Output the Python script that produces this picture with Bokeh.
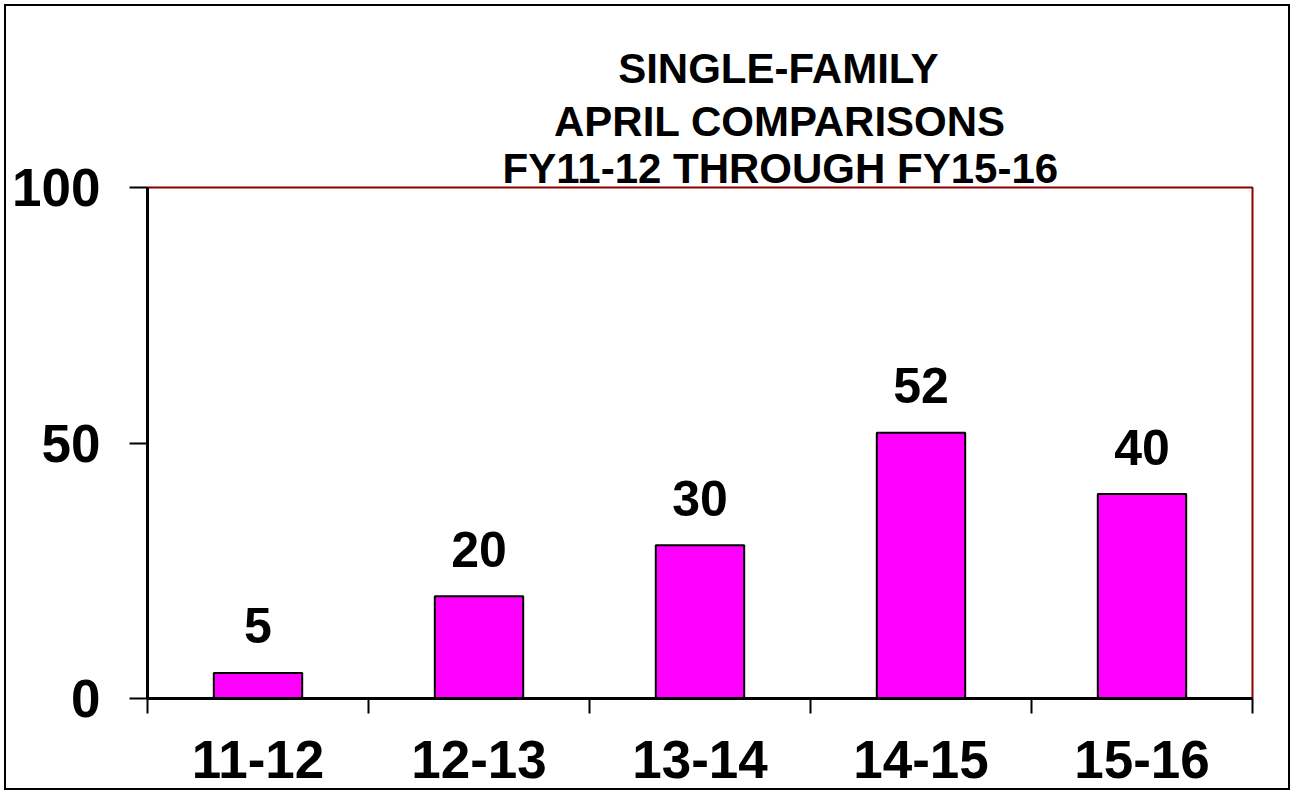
from bokeh.plotting import figure
from bokeh.models import ColumnDataSource, Range1d, FixedTicker, Title
from bokeh.core.properties import value
from bokeh.embed import file_html
from bokeh.resources import INLINE

categories = ["11-12", "12-13", "13-14", "14-15", "15-16"]
counts = [5, 20, 30, 52, 40]
y_ticks = [0, 50, 100]
title_lines = ["SINGLE-FAMILY", "APRIL  COMPARISONS", "FY11-12  THROUGH  FY15-16"]

FONT = "Liberation Sans"
TITLE_PX = 42
n = len(categories)
centers = [i + 0.5 for i in range(n)]
bounds = [float(i) for i in range(n + 1)]

# Liberation Sans Bold advance widths (em/1000) used to centre title lines
ADV = {" ": 278, "-": 333, "A": 722, "C": 722, "E": 667, "F": 611, "G": 778,
       "H": 722, "I": 278, "L": 611, "M": 833, "N": 722, "O": 778, "P": 667,
       "R": 722, "S": 667, "T": 611, "U": 722, "Y": 667}
for d in "0123456789":
    ADV[d] = 556


def text_width(s, px):
    s = " ".join(s.split())
    return sum(ADV.get(ch, 600) for ch in s) * px / 1000.0


src = ColumnDataSource(dict(x=centers, top=counts, lbl=[str(v) for v in counts]))

FRAME_LEFT = 147
p = figure(width=1294, height=794, output_backend="svg", toolbar_location=None,
           x_range=Range1d(0, n), y_range=Range1d(0, 100),
           min_border_left=FRAME_LEFT, min_border_top=187, min_border_right=42,
           min_border_bottom=96)
p.styles = {"background-color": "white",
            "box-shadow": "inset 0 0 0 4px white, inset 0 0 0 6px black"}
p.background_fill_color = "white"
p.border_fill_color = None
p.outline_line_color = "#8B0000"
p.outline_line_width = 2
p.xgrid.visible = False
p.ygrid.visible = False

p.vbar(x="x", top="top", width=0.4, source=src, fill_color="#FF00FF",
       line_color="black", line_width=2)
p.text(x="x", y="top", text="lbl", source=src, y_offset=-47,
       text_font=value(FONT), text_font_style="bold", text_font_size="50px",
       text_align="center", text_baseline="alphabetic", text_color="black")

# y axis
ya = p.yaxis[0]
ya.ticker = FixedTicker(ticks=y_ticks)
ya.axis_line_color = "black"
ya.axis_line_width = 3
ya.major_tick_line_color = "black"
ya.major_tick_line_width = 2
ya.major_tick_out = 18
ya.major_tick_in = 0
ya.minor_tick_line_color = None
ya.major_label_standoff = 29
ya.major_label_text_font = FONT
ya.major_label_text_font_style = "bold"
ya.major_label_text_font_size = "53px"
ya.major_label_text_color = "black"

# x axis
xa = p.xaxis[0]
xa.ticker = FixedTicker(ticks=centers, minor_ticks=bounds)
xa.major_label_overrides = {c: cat for c, cat in zip(centers, categories)}
xa.axis_line_color = "black"
xa.axis_line_width = 3
xa.major_tick_line_color = None
xa.major_tick_out = 0
xa.major_tick_in = 0
xa.minor_tick_line_color = "black"
xa.minor_tick_line_width = 2
xa.minor_tick_out = 15
xa.minor_tick_in = 0
xa.major_label_standoff = 27
xa.major_label_text_font = FONT
xa.major_label_text_font_style = "bold"
xa.major_label_text_font_size = "53px"
xa.major_label_text_color = "black"

# title: three lines centred at x = 781 px on the page
TITLE_CENTER = 781
standoffs = [-8, 4, 4]
for line, so in zip(reversed(title_lines), standoffs):
    off = TITLE_CENTER - text_width(line, TITLE_PX) / 2 - FRAME_LEFT
    p.add_layout(Title(text=line, align="left", offset=off, standoff=so,
                       text_font=FONT, text_font_style="bold",
                       text_font_size=f"{TITLE_PX}px", text_line_height=1.0,
                       text_color="black"), "above")

open("out.html", "w").write(file_html(p, INLINE))
